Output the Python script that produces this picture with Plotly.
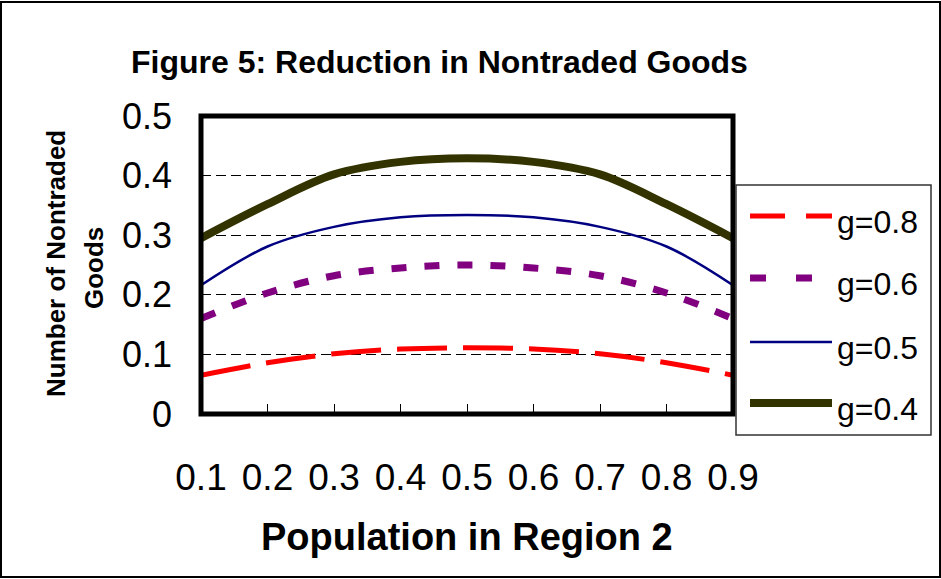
import plotly.graph_objects as go

# ---- data ----
x_vals = [0.1, 0.2, 0.3, 0.4, 0.5, 0.6, 0.7, 0.8, 0.9]
x_labels = ["0.1", "0.2", "0.3", "0.4", "0.5", "0.6", "0.7", "0.8", "0.9"]
y_ticks = [0, 0.1, 0.2, 0.3, 0.4, 0.5]
y_labels = ["0", "0.1", "0.2", "0.3", "0.4", "0.5"]

g08 = [0.065, 0.086, 0.101, 0.109, 0.111, 0.109, 0.101, 0.086, 0.065]
g06 = [0.160, 0.203, 0.232, 0.245, 0.250, 0.245, 0.232, 0.203, 0.160]
g05 = [0.216, 0.281, 0.314, 0.330, 0.334, 0.330, 0.314, 0.281, 0.216]
g04 = [0.295, 0.352, 0.402, 0.423, 0.429, 0.423, 0.402, 0.352, 0.295]

series_names = ["g=0.8", "g=0.6", "g=0.5", "g=0.4"]
series_vals = [g08, g06, g05, g04]
colors = ["#FF0000", "#800080", "#000080", "#333300"]
widths = [5, 7, 2.5, 8]
dashes = ["50px,16px", "15px,18px", "solid", "solid"]
legend_dashes = ["35px,21px", "16px,30px", "solid", "solid"]

FONT = "Liberation Sans, Arial, sans-serif"
W, H = 941, 579
L, R, T, B = 201, 733, 116, 414  # plot area in pixels


def px(xp):
    return (xp - L) / (R - L)


def py(yp):
    return (B - yp) / (B - T)


fig = go.Figure()
for name, vals, c, w, d in zip(series_names, series_vals, colors, widths, dashes):
    fig.add_trace(go.Scatter(
        x=x_vals, y=vals, name=name, mode="lines",
        line=dict(color=c, width=w, dash=d, shape="spline", smoothing=1.0),
        showlegend=False, hoverinfo="skip"))

shapes = []
annotations = []

# plot area border
shapes.append(dict(type="rect", xref="paper", yref="paper", x0=0, x1=1, y0=0, y1=1,
                   line=dict(color="black", width=5), layer="above"))
# outer frame
shapes.append(dict(type="rect", xref="paper", yref="paper",
                   x0=px(1), x1=px(940), y0=py(577), y1=py(2),
                   line=dict(color="black", width=2), layer="above"))

# legend box
shapes.append(dict(type="rect", xref="paper", yref="paper",
                   x0=px(736), x1=px(931), y0=py(435), y1=py(185),
                   line=dict(color="#333333", width=1.5), fillcolor="white", layer="above"))
leg_y = [216, 278, 342, 403]
for name, c, w, d, yy in zip(series_names, colors, widths, legend_dashes, leg_y):
    shapes.append(dict(type="line", xref="paper", yref="paper",
                       x0=px(750), x1=px(832), y0=py(yy), y1=py(yy),
                       line=dict(color=c, width=w, dash=d), layer="above"))
    annotations.append(dict(text=name, xref="paper", yref="paper", x=px(835), y=py(yy + 6),
                            xanchor="left", yanchor="middle", showarrow=False,
                            font=dict(family=FONT, size=32, color="black")))

# title
annotations.append(dict(text="<b>Figure 5: Reduction in Nontraded Goods</b>", xref="paper", yref="paper",
                        x=px(439), y=py(62), xanchor="center", yanchor="middle", showarrow=False,
                        font=dict(family=FONT, size=32, color="black")))
# y-axis title (two lines)
annotations.append(dict(text="<b>Number of Nontraded</b>", xref="paper", yref="paper",
                        x=px(56), y=py(264), xanchor="center", yanchor="middle", showarrow=False,
                        textangle=-90, font=dict(family=FONT, size=26, color="black")))
annotations.append(dict(text="<b>Goods</b>", xref="paper", yref="paper",
                        x=px(94), y=py(268), xanchor="center", yanchor="middle", showarrow=False,
                        textangle=-90, font=dict(family=FONT, size=26, color="black")))
# x-axis title
annotations.append(dict(text="<b>Population in Region 2</b>", xref="paper", yref="paper",
                        x=px(467), y=py(537), xanchor="center", yanchor="middle", showarrow=False,
                        font=dict(family=FONT, size=38, color="black")))

fig.update_layout(
    width=W, height=H,
    margin=dict(l=L, r=W - R, t=T, b=H - B, pad=0),
    paper_bgcolor="white", plot_bgcolor="white",
    showlegend=False,
    shapes=shapes, annotations=annotations,
    xaxis=dict(range=[0.1, 0.9], tickvals=x_vals, ticktext=x_labels,
               ticks="inside", ticklen=10, tickcolor="black", tickwidth=1,
               showgrid=False, zeroline=False, showline=False,
               ticklabelstandoff=38,
               tickfont=dict(family=FONT, size=37, color="black")),
    yaxis=dict(range=[0, 0.5], tickvals=y_ticks, ticktext=y_labels,
               ticks="", showgrid=True, gridcolor="black", gridwidth=1, griddash="10px,5px",
               zeroline=False, showline=False,
               ticklabelstandoff=28,
               tickfont=dict(family=FONT, size=36, color="black")),
)

fig.write_html("out.html")
